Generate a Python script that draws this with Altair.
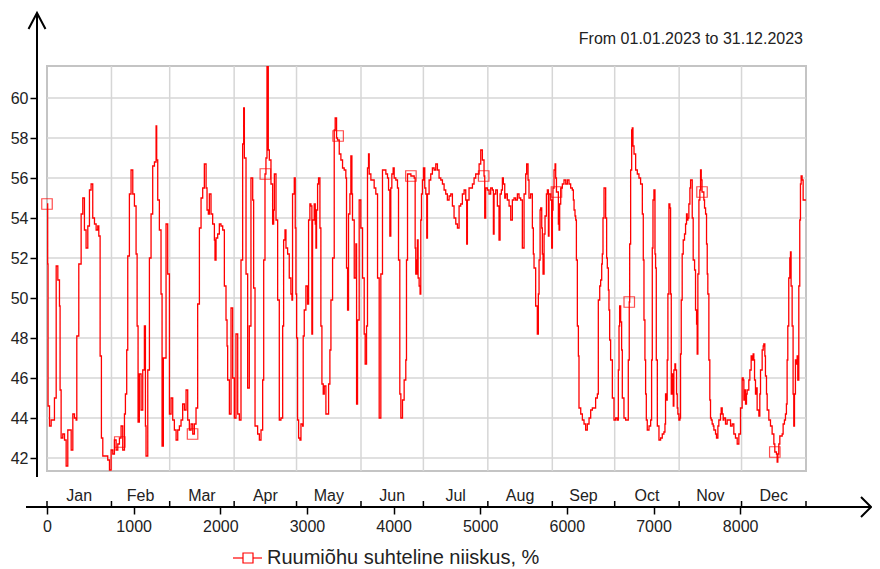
import altair as alt
import pandas as pd

# ---- series (hour of year, relative humidity %) ----
hours = [0, 8, 12, 29, 48, 86, 106, 125, 144, 151, 163, 182, 202, 221, 240, 259, 279, 298, 317, 336,
         344, 367, 394, 413, 432, 451, 471, 490, 509, 528, 548, 567, 586, 598, 613, 628, 644, 682, 701, 721,
         740, 759, 778, 798, 817, 836, 855, 874, 894, 905, 920, 932, 951, 970, 990, 1009, 1028, 1040, 1051, 1066,
         1086, 1105, 1124, 1136, 1143, 1163, 1182, 1201, 1220, 1240, 1259, 1266, 1278, 1297, 1316, 1328, 1343, 1374, 1393, 1413,
         1432, 1451, 1470, 1490, 1509, 1528, 1547, 1566, 1586, 1605, 1624, 1643, 1663, 1682, 1701, 1720, 1739, 1759, 1778, 1797,
         1816, 1836, 1847, 1862, 1874, 1893, 1912, 1932, 1939, 1951, 1970, 1989, 2008, 2028, 2047, 2066, 2078, 2085, 2105, 2124,
         2143, 2162, 2181, 2201, 2220, 2239, 2258, 2270, 2278, 2297, 2316, 2335, 2354, 2374, 2385, 2401, 2431, 2451, 2470, 2489,
         2501, 2516, 2527, 2539, 2554, 2566, 2585, 2604, 2616, 2624, 2643, 2662, 2681, 2700, 2720, 2731, 2747, 2758, 2777, 2796,
         2815, 2827, 2834, 2854, 2865, 2873, 2881, 2892, 2904, 2919, 2931, 2950, 2957, 2969, 2988, 3007, 3019, 3034, 3046, 3057,
         3065, 3084, 3096, 3104, 3111, 3123, 3134, 3150, 3161, 3173, 3188, 3200, 3219, 3238, 3250, 3265, 3277, 3296, 3315, 3326,
         3342, 3353, 3373, 3392, 3411, 3430, 3449, 3457, 3469, 3480, 3496, 3507, 3519, 3526, 3546, 3565, 3573, 3584, 3603, 3622,
         3642, 3661, 3672, 3688, 3699, 3711, 3719, 3738, 3757, 3776, 3795, 3815, 3834, 3853, 3872, 3892, 3911, 3930, 3942, 3957,
         3968, 3980, 3995, 4007, 4026, 4045, 4057, 4072, 4084, 4103, 4122, 4141, 4149, 4161, 4200, 4238, 4249, 4256, 4268, 4275,
         4283, 4295, 4306, 4314, 4322, 4333, 4345, 4360, 4372, 4383, 4391, 4410, 4429, 4448, 4468, 4487, 4506, 4525, 4545, 4564,
         4583, 4602, 4621, 4641, 4660, 4679, 4698, 4718, 4737, 4756, 4775, 4794, 4814, 4833, 4844, 4852, 4871, 4890, 4910, 4929,
         4948, 4967, 4987, 5006, 5025, 5044, 5052, 5063, 5083, 5102, 5121, 5140, 5152, 5160, 5179, 5198, 5217, 5229, 5244, 5256,
         5267, 5283, 5294, 5313, 5333, 5352, 5371, 5390, 5409, 5429, 5448, 5467, 5486, 5506, 5525, 5536, 5552, 5563, 5582, 5602,
         5613, 5621, 5640, 5659, 5671, 5679, 5691, 5698, 5710, 5717, 5725, 5737, 5748, 5764, 5775, 5787, 5794, 5814, 5825, 5833,
         5840, 5852, 5864, 5871, 5880, 5902, 5910, 5917, 5929, 5948, 5967, 5987, 6006, 6025, 6044, 6063, 6075, 6083, 6094, 6102,
         6110, 6121, 6133, 6140, 6160, 6179, 6198, 6217, 6236, 6256, 6275, 6294, 6313, 6332, 6352, 6363, 6379, 6390, 6402, 6409,
         6417, 6429, 6440, 6448, 6459, 6467, 6479, 6486, 6494, 6505, 6525, 6544, 6563, 6582, 6594, 6602, 6609, 6621, 6632, 6640,
         6659, 6678, 6698, 6709, 6720, 6725, 6736, 6748, 6755, 6763, 6775, 6794, 6813, 6832, 6851, 6871, 6882, 6890, 6901, 6909,
         6917, 6928, 6948, 6967, 6978, 6986, 6994, 7005, 7017, 7024, 7032, 7044, 7063, 7082, 7101, 7120, 7132, 7139, 7151, 7158,
         7166, 7178, 7189, 7197, 7205, 7216, 7228, 7235, 7247, 7255, 7266, 7274, 7281, 7293, 7305, 7312, 7320, 7331, 7343, 7358,
         7370, 7381, 7389, 7397, 7408, 7420, 7428, 7435, 7447, 7458, 7474, 7485, 7497, 7504, 7512, 7524, 7535, 7543, 7551, 7560,
         7581, 7589, 7601, 7612, 7620, 7627, 7639, 7650, 7658, 7666, 7677, 7689, 7697, 7716, 7727, 7743, 7754, 7773, 7781, 7793,
         7804, 7812, 7831, 7850, 7870, 7889, 7908, 7927, 7946, 7966, 7985, 8004, 8023, 8035, 8043, 8050, 8062, 8073, 8081, 8100,
         8112, 8127, 8139, 8150, 8158, 8166, 8177, 8189, 8196, 8216, 8227, 8235, 8254, 8266, 8273, 8285, 8292, 8304, 8312, 8331,
         8350, 8369, 8389, 8400, 8419, 8427, 8435, 8446, 8458, 8465, 8485, 8496, 8511, 8523, 8534, 8542, 8550, 8561, 8573, 8581,
         8588, 8600, 8611, 8619, 8627, 8638, 8650, 8658, 8665, 8677, 8688, 8696, 8704, 8715, 8727, 8759]

rh = [54.7, 51.7, 44.6, 43.6, 43.9, 45.0, 51.6, 50.9, 49.6, 45.4, 43.0, 43.2, 42.9, 41.6, 43.4, 43.4, 42.4, 44.2, 44.0, 43.9,
      48.1, 51.7, 54.2, 55.0, 53.4, 52.5, 53.6, 55.4, 55.7, 54.0, 53.7, 53.4, 53.6, 53.1, 47.1, 43.0, 42.1, 42.1, 41.9, 41.4,
      42.4, 42.2, 42.9, 42.4, 42.7, 43.0, 43.6, 42.4, 44.2, 45.2, 47.4, 52.1, 55.2, 56.4, 55.2, 54.6, 52.2, 48.6, 43.8, 46.2,
      44.4, 46.4, 48.6, 43.6, 42.1, 46.4, 52.0, 54.2, 56.6, 56.8, 58.6, 56.9, 54.9, 53.4, 50.2, 42.6, 47.0, 53.7, 51.2, 44.2,
      45.0, 43.9, 43.4, 42.9, 43.4, 43.6, 43.9, 44.7, 44.4, 45.4, 43.9, 43.4, 43.7, 43.2, 43.7, 44.5, 49.7, 53.5, 55.0, 55.5,
      56.7, 55.5, 54.4, 54.2, 55.2, 54.2, 53.7, 52.9, 51.9, 53.0, 53.2, 53.7, 53.6, 53.4, 50.6, 48.9, 47.6, 45.9, 44.2, 49.5,
      46.0, 44.0, 48.2, 44.2, 43.9, 51.9, 57.7, 59.5, 57.0, 51.2, 45.5, 48.6, 56.0, 54.9, 50.5, 43.6, 43.2, 42.9, 43.4, 45.9,
      51.9, 56.2, 57.0, 61.6, 57.4, 56.9, 55.7, 53.7, 54.4, 56.2, 53.9, 49.9, 43.9, 44.0, 48.6, 52.9, 53.4, 52.5, 52.2, 51.0,
      50.2, 49.9, 55.2, 56.0, 53.5, 50.2, 48.0, 43.9, 43.0, 42.9, 43.7, 43.6, 48.1, 49.4, 50.6, 49.7, 53.9, 54.7, 54.6, 48.2,
      53.9, 54.7, 53.7, 52.5, 54.4, 55.7, 56.0, 53.5, 48.6, 45.7, 45.2, 45.6, 44.2, 44.2, 45.7, 47.4, 49.9, 52.0, 58.4, 59.0,
      58.0, 57.9, 57.2, 56.9, 56.5, 56.4, 56.0, 51.5, 49.4, 54.2, 55.2, 57.1, 55.2, 53.9, 51.0, 52.7, 44.7, 48.9, 54.9, 53.5,
      51.0, 48.2, 46.7, 48.6, 56.5, 57.2, 56.2, 55.9, 55.9, 55.5, 55.2, 51.0, 44.0, 51.2, 56.4, 56.4, 56.2, 56.0, 55.4, 53.1,
      55.5, 56.2, 56.5, 56.0, 55.9, 55.5, 51.9, 45.2, 44.0, 44.9, 45.9, 46.9, 51.9, 56.2, 56.1, 56.0, 52.5, 51.2, 51.9, 52.9,
      51.0, 50.6, 50.2, 53.9, 55.2, 55.9, 56.5, 55.5, 55.2, 53.0, 55.2, 55.9, 56.2, 56.5, 56.4, 56.7, 56.4, 56.0, 55.9, 55.7,
      55.4, 55.2, 54.9, 55.1, 55.2, 54.6, 54.0, 53.7, 53.5, 54.6, 54.7, 55.2, 55.4, 54.9, 52.7, 54.9, 55.5, 55.5, 55.7, 56.0,
      56.2, 56.2, 56.7, 57.4, 56.9, 56.1, 54.0, 55.5, 55.4, 55.2, 55.5, 55.4, 53.2, 55.2, 55.4, 54.6, 52.9, 55.2, 55.4, 56.0,
      55.7, 55.0, 55.2, 54.9, 54.6, 53.9, 54.9, 55.0, 54.9, 55.2, 55.0, 54.9, 52.5, 55.2, 56.2, 56.7, 55.9, 55.0, 55.2, 53.5,
      52.2, 51.5, 49.6, 48.2, 50.2, 51.9, 54.4, 54.5, 53.5, 52.2, 51.2, 53.2, 54.1, 55.2, 55.4, 53.1, 55.2, 54.9, 52.5, 54.4,
      55.5, 56.4, 56.7, 56.0, 55.3, 53.7, 53.4, 54.7, 55.5, 55.7, 55.9, 55.7, 55.9, 55.7, 55.5, 55.4, 54.9, 54.4, 54.1, 53.9,
      51.9, 48.6, 47.1, 44.5, 44.2, 43.9, 43.7, 43.4, 43.7, 44.0, 44.4, 44.5, 44.5, 45.0, 45.2, 49.9, 50.6, 50.9, 51.7, 52.2,
      54.0, 55.5, 55.5, 54.0, 52.0, 51.5, 50.4, 49.4, 47.9, 46.9, 45.0, 43.9, 44.0, 43.9, 46.4, 48.6, 49.6, 48.8, 47.4, 45.0,
      44.0, 43.9, 43.9, 46.9, 49.8, 52.7, 56.4, 58.4, 58.5, 57.6, 57.2, 56.4, 56.2, 56.0, 55.7, 54.2, 51.9, 48.9, 46.9, 45.2,
      43.9, 43.4, 43.6, 43.9, 46.9, 52.5, 54.9, 55.4, 52.2, 51.5, 46.9, 43.6, 42.9, 43.0, 43.2, 43.3, 43.7, 45.2, 44.9, 46.9,
      50.2, 54.7, 54.5, 50.2, 45.2, 46.2, 44.6, 46.4, 46.7, 46.4, 45.2, 44.5, 44.2, 43.9, 44.0, 47.2, 49.9, 52.2, 52.9, 53.2,
      53.7, 54.2, 53.9, 54.0, 54.7, 55.5, 55.9, 55.9, 54.0, 51.9, 51.4, 49.4, 48.7, 47.2, 51.2, 54.9, 55.4, 56.4, 55.9, 55.3,
      54.9, 54.5, 54.2, 52.7, 51.2, 50.2, 46.9, 44.9, 44.0, 43.9, 43.7, 43.6, 43.4, 43.2, 43.0, 43.6, 43.9, 44.2, 44.5, 44.2,
      43.9, 44.0, 43.7, 43.9, 43.9, 43.6, 43.7, 43.2, 43.0, 42.7, 43.2, 44.5, 46.0, 45.9, 44.9, 45.4, 44.7, 45.2, 45.4, 45.9,
      46.4, 47.1, 46.9, 47.2, 46.9, 45.9, 45.2, 45.5, 44.4, 44.1, 45.2, 46.4, 47.4, 47.6, 47.7, 47.1, 46.1, 45.2, 44.4, 43.9,
      43.6, 43.2, 42.7, 42.3, 42.2, 41.8, 42.2, 42.7, 43.1, 43.1, 43.2, 43.7, 43.9, 44.2, 44.7, 46.9, 48.6, 51.0, 52.0, 52.3,
      50.6, 48.6, 45.2, 43.6, 45.2, 46.9, 46.7, 47.1, 45.9, 50.6, 53.9, 55.7, 56.1, 55.9, 54.9, 54.9]

# square markers drawn along the series
marker_hours = [0, 840, 1680, 2520, 3360, 4200, 5040, 5880, 6720, 7560, 8400]
marker_rh = [54.7, 42.8, 43.2, 56.2, 58.1, 56.1, 56.1, 55.3, 49.8, 55.3, 42.3]

# axes / annotation content
y_ticks = [42, 44, 46, 48, 50, 52, 54, 56, 58, 60]
x_ticks = [0, 1000, 2000, 3000, 4000, 5000, 6000, 7000, 8000]
month_names = ["Jan", "Feb", "Mar", "Apr", "May", "Jun", "Jul", "Aug", "Sep", "Oct", "Nov", "Dec"]
month_starts = [0, 744, 1416, 2160, 2880, 3624, 4344, 5088, 5832, 6552, 7296, 8016, 8760]
series_name = "Ruumiõhu suhteline niiskus, %"
period_text = "From 01.01.2023 to 31.12.2023"

W, H = 759, 405
RED = "#ff0000"
FONT = "Liberation Sans"
TXT = "#222222"

df = pd.DataFrame({"hour": hours, "rh": rh})
dm = pd.DataFrame({"hour": marker_hours, "rh": marker_rh})
dgy = pd.DataFrame({"rh": y_ticks})
dgx = pd.DataFrame({"hour": month_starts[1:-1]})
dmt = pd.DataFrame({"hour": month_starts})
dml = pd.DataFrame({"m": month_names,
                    "hour": [(month_starts[i] + month_starts[i + 1]) / 2 for i in range(12)]})

xs = alt.Scale(domain=[0, 8760], nice=False, zero=False)
ys = alt.Scale(domain=[41.35, 61.6], nice=False, zero=False)

AX_X = alt.Axis(values=x_ticks, format="d", offset=36, domain=False, grid=False,
                tickColor="black", tickSize=7, tickWidth=1.5, labelPadding=4,
                labelFlush=False, labelOverlap=False)
AX_Y = alt.Axis(values=y_ticks, format="d", offset=10, domain=False, grid=False,
                tickColor="black", tickSize=7, tickWidth=1.5, labelPadding=2)

X = alt.X("hour:Q", scale=xs, title=None, axis=AX_X)
Y = alt.Y("rh:Q", scale=ys, title=None, axis=AX_Y)

grid_h = alt.Chart(dgy).mark_rule(color="#d6d6d6", strokeWidth=1.5).encode(
    y=Y, x=alt.value(0), x2=alt.value(W))
grid_v = alt.Chart(dgx).mark_rule(color="#d6d6d6", strokeWidth=1.5).encode(
    x=X, y=alt.value(0), y2=alt.value(H))

line = alt.Chart(df).mark_line(color=RED, strokeWidth=1.3, interpolate="step-after", clip=True).encode(
    x=X, y=Y)

markers = alt.Chart(dm).mark_point(shape="square", filled=False, color=RED, size=110,
                                   strokeWidth=1.2).encode(x=X, y=Y)

one = pd.DataFrame({"t": [period_text], "s": [series_name]})

y_axis_line = alt.Chart(one).mark_rule(color="black", strokeWidth=2).encode(
    x=alt.value(-10), y=alt.value(-53), y2=alt.value(411))
y_arrow = alt.Chart(one).mark_point(shape="M-0.53,1L0,0L0.53,1", size=1024, filled=False,
                                    color="black", strokeWidth=2, opacity=1).encode(
    x=alt.value(-10), y=alt.value(-53))
x_axis_line = alt.Chart(one).mark_rule(color="black", strokeWidth=2).encode(
    x=alt.value(-21), x2=alt.value(823), y=alt.value(441))
x_arrow = alt.Chart(one).mark_point(shape="M-1,-1L0,0L-1,1", size=400, filled=False,
                                    color="black", strokeWidth=2, opacity=1).encode(
    x=alt.value(824), y=alt.value(441))

month_ticks = alt.Chart(dmt).mark_rule(color="black", strokeWidth=1.5).encode(
    x=X, y=alt.value(435), y2=alt.value(441))
month_labels = alt.Chart(dml).mark_text(font=FONT, fontSize=16, color=TXT, baseline="middle").encode(
    x=X, y=alt.value(430), text="m:N")

title = alt.Chart(one).mark_text(font=FONT, fontSize=16, color=TXT, align="right",
                                 baseline="middle").encode(
    x=alt.value(756), y=alt.value(-27), text="t:N")

leg_line = alt.Chart(one).mark_rule(color=RED, strokeWidth=1.2).encode(
    x=alt.value(186), x2=alt.value(215), y=alt.value(492))
leg_sq = alt.Chart(one).mark_point(shape="square", filled=True, fill="white", color=RED, size=100,
                                   strokeWidth=1.2, stroke=RED, opacity=1).encode(
    x=alt.value(201), y=alt.value(492))
leg_text = alt.Chart(one).mark_text(font=FONT, fontSize=20, color=TXT, align="left",
                                    baseline="middle").encode(
    x=alt.value(220), y=alt.value(492), text="s:N")

chart = alt.layer(
    grid_h, grid_v, line, markers, y_axis_line, y_arrow, x_axis_line, x_arrow,
    month_ticks, month_labels, title, leg_line, leg_sq, leg_text
).properties(
    width=W, height=H,
    autosize=alt.AutoSizeParams(type="none"),
    padding={"left": 39, "top": 58, "right": 66, "bottom": 108},
    background="white",
).configure_view(
    stroke="#c4c4c4", strokeWidth=2
).configure_axis(
    labelFont=FONT, labelFontSize=16, labelColor=TXT
)

chart.save("out.html", embed_options={"renderer": "svg", "actions": False})
